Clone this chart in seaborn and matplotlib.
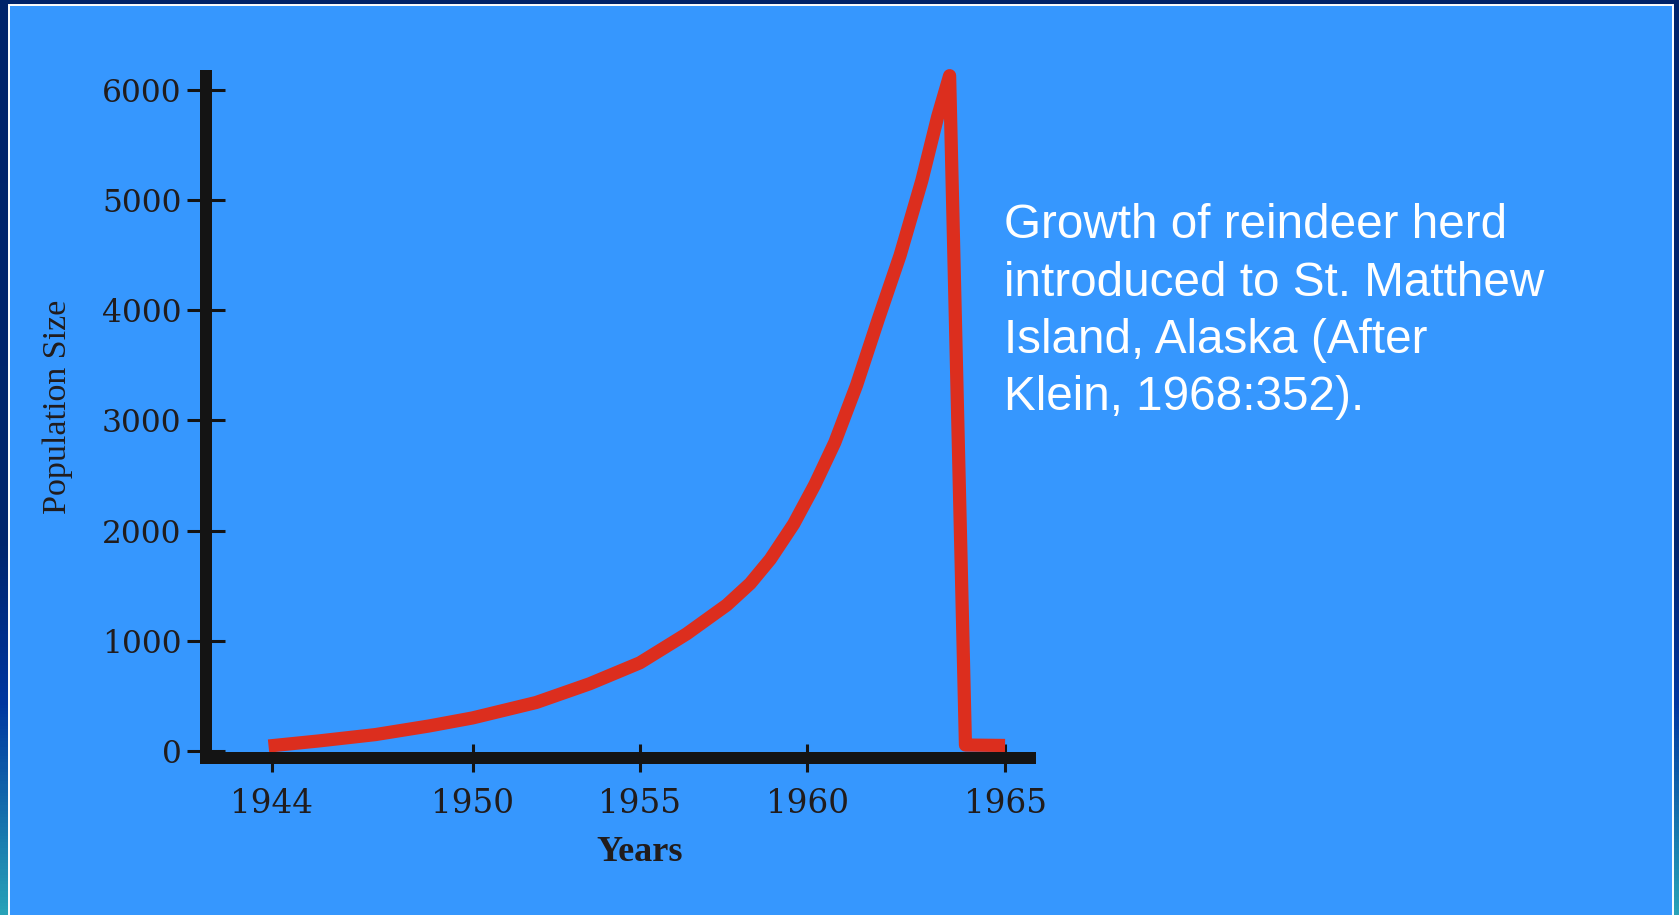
import numpy as np
import matplotlib
matplotlib.use("Agg")
import matplotlib.pyplot as plt
from matplotlib.patches import Rectangle
from matplotlib.colors import LinearSegmentedColormap
import seaborn as sns

# reindeer herd on St. Matthew Island
years = [1943.9, 1945.4, 1947.1, 1948.7, 1950.0, 1951.9, 1953.5, 1955.0, 1956.4,
         1957.6, 1958.3, 1958.9, 1959.6, 1960.2, 1960.7, 1961.25, 1961.8, 1962.35,
         1962.9, 1963.3, 1963.6, 1964.0, 1965.0]
population = [45, 91, 149, 227, 300, 440, 610, 800, 1063,
              1325, 1520, 1740, 2060, 2420, 2800, 3320, 3920, 4500,
              5180, 5760, 6130, 54, 50]

year_ticks = [1944, 1950, 1955, 1960, 1965]
pop_ticks = [0, 1000, 2000, 3000, 4000, 5000, 6000]
caption = "Growth of reindeer herd\nintroduced to St. Matthew\nIsland, Alaska (After\nKlein, 1968:352)."

# the original drawing spaces 1960-1965 wider than the earlier years
stretch = 1.184


def fwd(x):
    x = np.asarray(x, dtype=float)
    return np.where(x <= 1960, x, 1960 + (x - 1960) * stretch)


def inv(x):
    x = np.asarray(x, dtype=float)
    return np.where(x <= 1960, x, 1960 + (x - 1960) / stretch)


sns.set_theme(style="white")
plt.rcParams['font.family'] = ['DejaVu Serif']

W, H = 1679, 915
fig = plt.figure(figsize=(W / 100, H / 100), dpi=100)
fig.patch.set_facecolor('#00236a')

# slide background: gradient side strips, blue panel with white edge
bg = fig.add_axes([0, 0, 1, 1])
bg.set_xlim(0, W)
bg.set_ylim(H, 0)
bg.axis('off')
side = LinearSegmentedColormap.from_list(
    'side', [(0, '#00236a'), (0.6, '#00266f'), (0.77, '#0036a0'), (1, '#28a2b8')])
bg.imshow(np.linspace(0, 1, 300).reshape(-1, 1), extent=[0, W, H, 0],
          aspect='auto', cmap=side)
bg.add_patch(Rectangle((0, 0), W, 5, color='#00236a'))
bg.add_patch(Rectangle((9, 5), 1664, 930, facecolor='#3697fe',
                       edgecolor='white', linewidth=1.4))

ax = fig.add_axes([206 / W, 1 - 757.7 / H, 824 / W, 681.7 / H])
ax.patch.set_alpha(0)

sns.lineplot(x=years, y=population, ax=ax, color='#dc2e1e', linewidth=9.5,
             estimator=None, sort=False)
line = ax.lines[0]
line.set_clip_on(False)
line.set_solid_joinstyle('round')
line.set_solid_capstyle('butt')

ax.set_xscale('function', functions=(fwd, inv))
ax.set_xlim(1942.03, 1965.63)
ax.set_ylim(-61, 6127)
ax.set_xticks(year_ticks)
ax.set_xticklabels([str(y) for y in year_ticks])
ax.set_yticks(pop_ticks)
ax.set_yticklabels([str(p) for p in pop_ticks])
ax.minorticks_off()

for s in ['top', 'right']:
    ax.spines[s].set_visible(False)
for s in ['left', 'bottom']:
    ax.spines[s].set_linewidth(8.64)
    ax.spines[s].set_color('#141414')
    ax.spines[s].set_capstyle('projecting')

ax.tick_params(axis='y', direction='inout', length=27.4, width=2.2, pad=4,
               labelsize=22.5, color='#141414', labelcolor='#211c1c', left=True)
ax.tick_params(axis='x', direction='inout', length=20.2, width=2.2, pad=12,
               labelsize=23.5, color='#141414', labelcolor='#211c1c', bottom=True)

ax.set_ylabel('Population Size', fontfamily='Liberation Serif', fontsize=24.5,
              color='#211c1c')
ax.yaxis.set_label_coords(-0.1617, 0.5145)
ax.set_xlabel('Years', fontfamily='Liberation Serif', fontsize=26,
              fontweight='bold', color='#211c1c')
ax.xaxis.set_label_coords(0.5267, -0.1149)

fig.text(1004 / W, 1 - 203.5 / H, caption, ha='left', va='top', color='white',
         fontsize=34.3, fontfamily='Liberation Sans', linespacing=1.347)

fig.savefig('out.png', dpi=100)
